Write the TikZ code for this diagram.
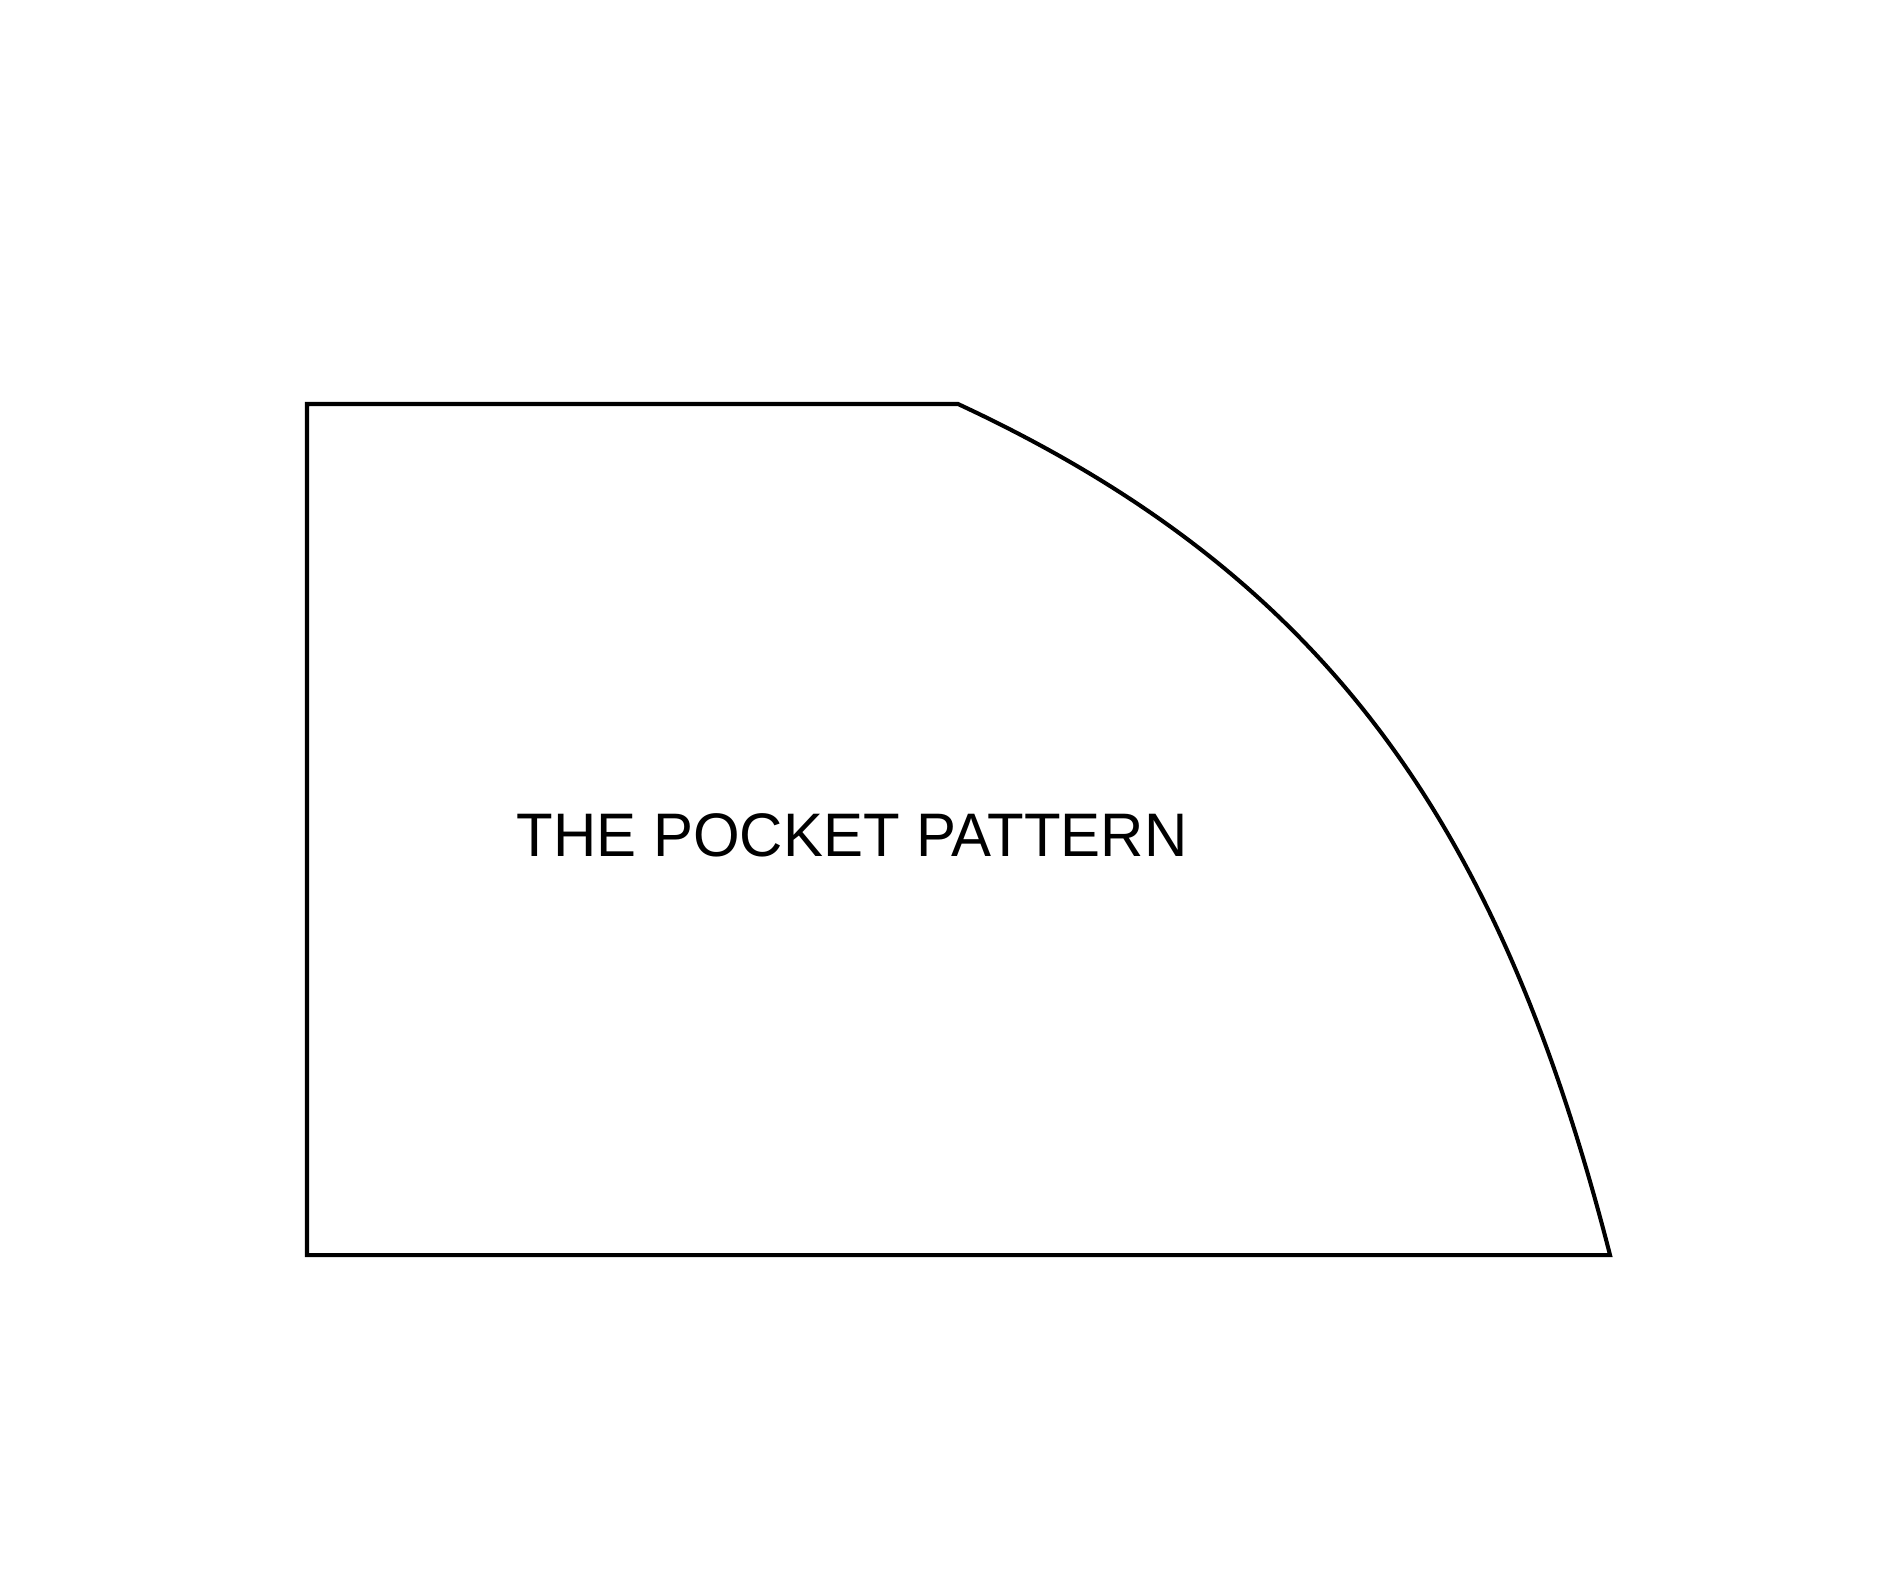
\documentclass[tikz,border=0pt]{standalone}
\usepackage{fontspec}
\usepackage{graphicx}
\setmainfont{Liberation Sans}
\begin{document}
\begin{tikzpicture}[x=0.01cm,y=-0.01cm,
  outline/.style={draw=black,line width=1.15pt},
  label/.style={inner sep=0pt,anchor=base,font=\fontsize{17.48}{20}\selectfont}]
\useasboundingbox (0,0) rectangle (1880,1576);
\coordinate (tl) at (307,404);
\coordinate (tr) at (958,404);
\coordinate (br) at (1610,1255);
\coordinate (bl) at (307,1255);
\draw[outline] (tl) -- (tr) .. controls (1328,576) and (1500,826) .. (br) -- (bl) -- cycle;
\node[label] (title) at (852,856) {\scalebox{0.975}[1]{THE POCKET PATTERN}};
\end{tikzpicture}
\end{document}
